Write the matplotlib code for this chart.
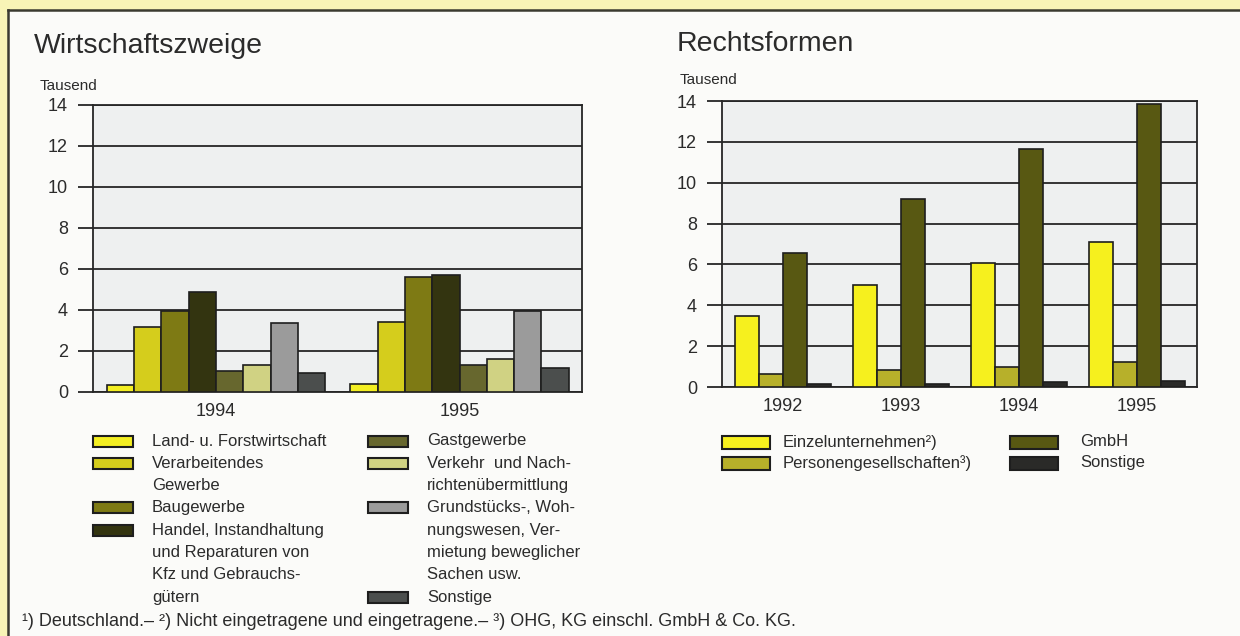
import matplotlib
matplotlib.use('Agg')
import matplotlib.pyplot as plt
from matplotlib.patches import Rectangle

W, H = 1240, 636

# Wirtschaftszweige, Tausend
branch_years = ['1994', '1995']
land_forst = [0.33, 0.41]
verarbeitend = [3.18, 3.41]
baugewerbe = [3.96, 5.60]
handel = [4.86, 5.71]
gastgewerbe = [1.01, 1.34]
verkehr = [1.34, 1.62]
grundstuecke = [3.36, 3.96]
sonstige_branch = [0.93, 1.16]

branch_labels = [
    'Land- u. Forstwirtschaft',
    'Verarbeitendes\nGewerbe',
    'Baugewerbe',
    'Handel, Instandhaltung\nund Reparaturen von\nKfz und Gebrauchs-\ngütern',
    'Gastgewerbe',
    'Verkehr  und Nach-\nrichtenübermittlung',
    'Grundstücks-, Woh-\nnungswesen, Ver-\nmietung beweglicher\nSachen usw.',
    'Sonstige',
]
branch_colors = ['#f4ef22', '#d5cd1c', '#7e7a14', '#333410',
                 '#67672e', '#d0d283', '#9b9b9b', '#4b4e4d']

# Rechtsformen, Tausend
form_years = ['1992', '1993', '1994', '1995']
einzel = [3.49, 4.97, 6.08, 7.10]
personen = [0.62, 0.82, 0.98, 1.20]
gmbh = [6.56, 9.22, 11.67, 13.84]
sonstige_form = [0.16, 0.13, 0.25, 0.31]

form_labels = ['Einzelunternehmen²)', 'Personengesellschaften³)',
               'GmbH', 'Sonstige']
form_colors = ['#f6f01e', '#b7b02a', '#585812', '#2a2a28']

footnote = ('¹) Deutschland.– ²) Nicht eingetragene und eingetragene.– '
            '³) OHG, KG einschl. GmbH & Co. KG.')

TXT = '#2b2b2b'
LINE = '#262626'
plt.rcParams['font.family'] = ['Liberation Sans', 'DejaVu Sans']


def fx(x):
    return x / W


def fy(y):
    return 1 - y / H


def ftext(fig, x, y, s, size, **kw):
    fig.text(fx(x), fy(y), s, fontsize=size, color=TXT, va='center', **kw)


def style_axes(ax, xlim, years):
    ax.set_facecolor('#eef0f0')
    ax.set_xlim(*xlim)
    ax.set_ylim(0, 14)
    ax.set_yticks(range(0, 15, 2))
    ax.yaxis.grid(True, color=LINE, lw=1.3)
    ax.set_axisbelow(True)
    for sp in ax.spines.values():
        sp.set_color(LINE)
        sp.set_linewidth(1.3)
    ax.tick_params(axis='y', direction='out', length=11, width=1.3,
                   color=LINE, pad=7, labelsize=13, labelcolor=TXT)
    ax.set_xticks(range(len(years)))
    ax.set_xticklabels(years)
    ax.tick_params(axis='x', length=0, pad=8, labelsize=13, labelcolor=TXT)


def draw_legend(fig, labels, colors, cols, row0, step, patch_w, patch_h,
                size):
    # cols: list of (patch_x, text_x, indices)
    for px, tx, idx in cols:
        row = 0
        for i in idx:
            y = row0 + row * step
            fig.add_artist(Rectangle((fx(px), fy(y + patch_h / 2)),
                                     patch_w / W, patch_h / H,
                                     transform=fig.transFigure,
                                     facecolor=colors[i], edgecolor='#1e1e1e',
                                     lw=1.5))
            for line in labels[i].split('\n'):
                ftext(fig, tx, row0 + row * step, line, size)
                row += 1


fig = plt.figure(figsize=(W / 100, H / 100), dpi=100)
fig.patch.set_facecolor('#fbfbf9')

# yellow frame strips and dark panel border
fig.add_artist(Rectangle((0, fy(10)), 1, 10 / H, transform=fig.transFigure,
                         facecolor='#f8f4b6', edgecolor='none'))
fig.add_artist(Rectangle((0, 0), fx(8), fy(10), transform=fig.transFigure,
                         facecolor='#f8f4b6', edgecolor='none'))
fig.add_artist(plt.Line2D([fx(8), 1], [fy(10), fy(10)],
                          transform=fig.transFigure, color='#3a3a30', lw=1.8))
fig.add_artist(plt.Line2D([fx(8), fx(8)], [0, fy(10)],
                          transform=fig.transFigure, color='#3a3a30', lw=1.8))

# left chart
ax1 = fig.add_axes([fx(93), fy(392), (582 - 93) / W, (392 - 105) / H])
branch_series = [land_forst, verarbeitend, baugewerbe, handel,
                 gastgewerbe, verkehr, grundstuecke, sonstige_branch]
bw = 0.112
for i, vals in enumerate(branch_series):
    xs = [g + (i - 3.5) * bw for g in range(len(branch_years))]
    ax1.bar(xs, vals, width=bw, color=branch_colors[i],
            edgecolor='#1e1e1e', linewidth=1.2, zorder=3)
style_axes(ax1, (-0.505, 1.503), branch_years)

# right chart
ax2 = fig.add_axes([fx(722), fy(387), (1197 - 722) / W, (387 - 101) / H])
form_series = [einzel, personen, gmbh, sonstige_form]
fw = 0.203
for i, vals in enumerate(form_series):
    xs = [g + (i - 1.5) * fw for g in range(len(form_years))]
    ax2.bar(xs, vals, width=fw, color=form_colors[i],
            edgecolor='#1e1e1e', linewidth=1.2, zorder=3)
style_axes(ax2, (-0.517, 3.508), form_years)

# titles and unit labels
ftext(fig, 34, 46, 'Wirtschaftszweige', 20.5)
ftext(fig, 677, 44, 'Rechtsformen', 20.5)
ftext(fig, 40, 86, 'Tausend', 11)
ftext(fig, 680, 80, 'Tausend', 11)

# legends
draw_legend(fig, branch_labels, branch_colors,
            [(93, 152, [0, 1, 2, 3]), (368, 427, [4, 5, 6, 7])],
            441, 22.3, 40, 11, 12)
draw_legend(fig, form_labels, form_colors,
            [(722, 783, [0, 1]), (1010, 1080, [2, 3])],
            442, 21, 48, 13, 12)

ftext(fig, 22, 621, footnote, 13)

fig.savefig('out.png', dpi=100)
